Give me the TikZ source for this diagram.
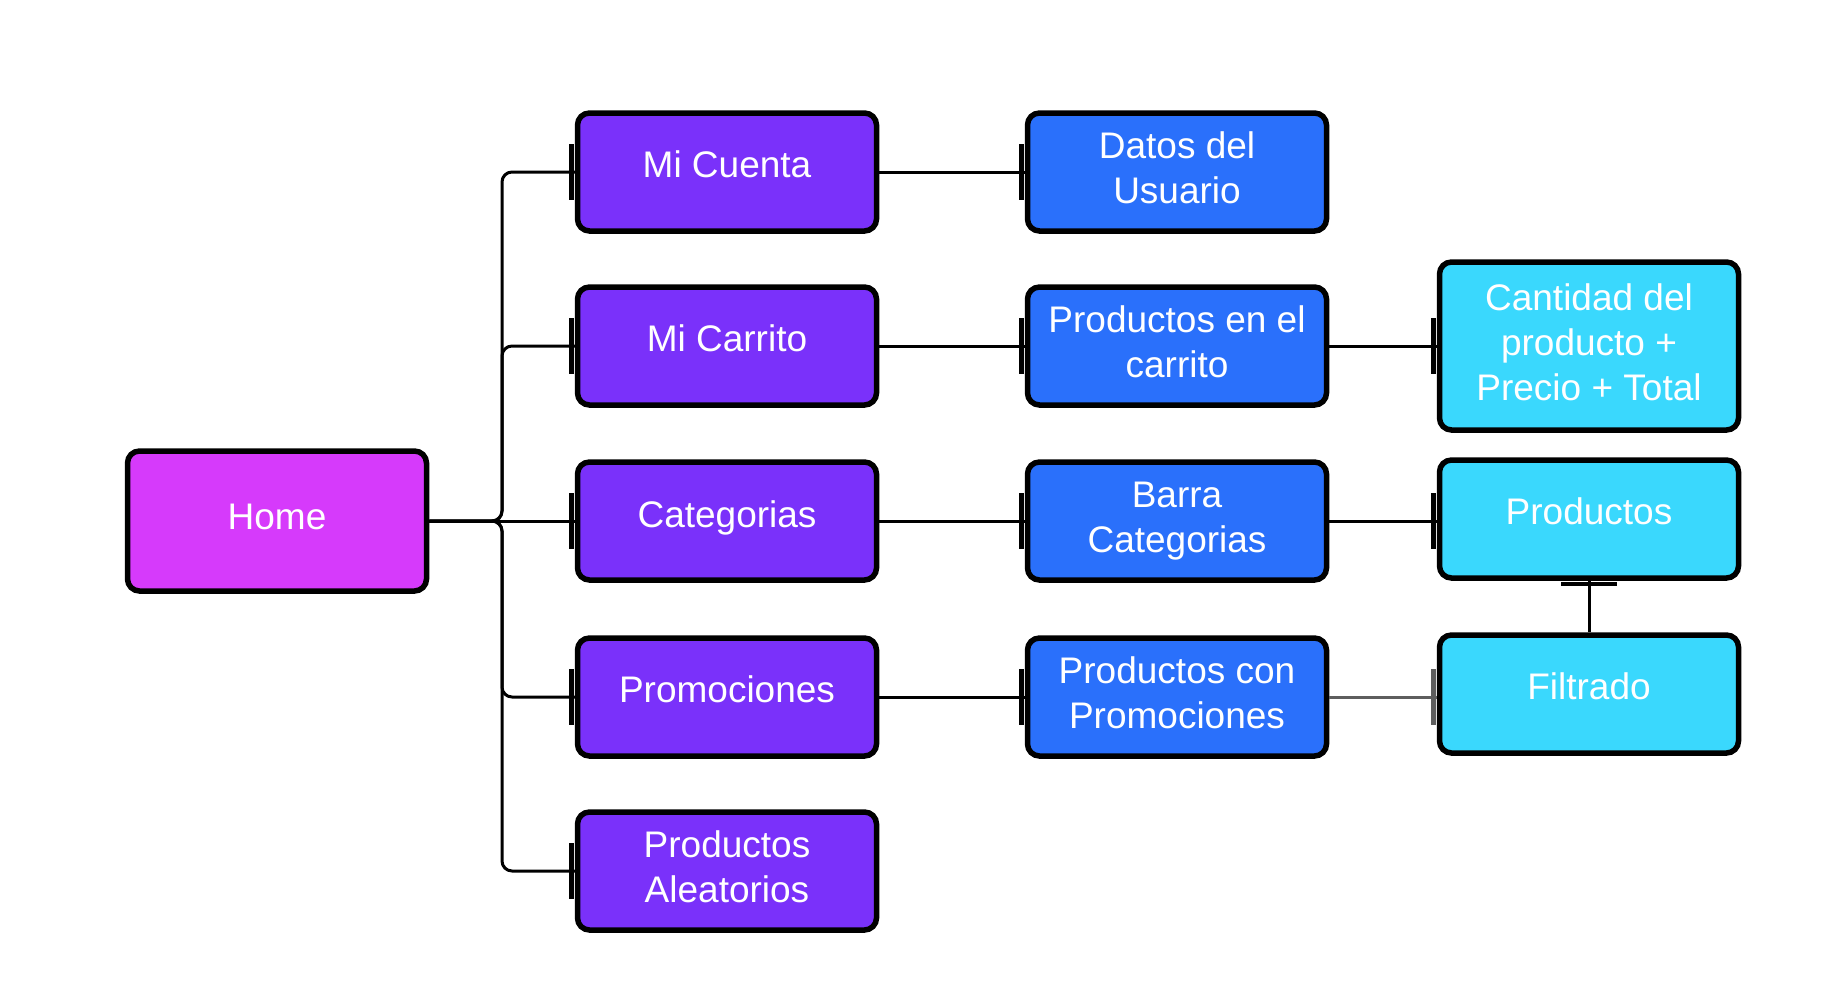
\documentclass[tikz,border=0pt]{standalone}
\usepackage{fontspec}
\setmainfont{Liberation Sans}
\definecolor{homec}{HTML}{D63AFB}
\definecolor{purc}{HTML}{7A31FA}
\definecolor{bluc}{HTML}{2A70FB}
\definecolor{cyac}{HTML}{3AD8FD}
\definecolor{grayc}{HTML}{5E5E5E}
\newcommand{\uptxt}[2][8pt]{\raisebox{#1}[\height][\depth]{#2}}
\newcommand{\uptwo}[1]{\begin{tabular}{@{}c@{}}#1\end{tabular}}
\begin{document}
\begin{tikzpicture}[x=1pt,y=-1pt,
  box/.style={draw=black,line width=5.5pt,rounded corners=12pt,minimum width=299pt,minimum height=118pt,
    text=white,align=center,font=\fontsize{37}{45}\selectfont,inner sep=0pt},
  hbox/.style={box,fill=homec},
  pbox/.style={box,fill=purc},
  bbox/.style={box,fill=bluc},
  cbox/.style={box,fill=cyac},
  conn/.style={draw=black,line width=3pt,rounded corners=10pt},
  gconn/.style={draw=grayc,line width=3pt},
  tickbar/.style={line width=5pt},
]
\useasboundingbox (0,0) rectangle (1845,1007);
\node[hbox,minimum height=140pt] (home) at (277,521) {\uptxt[4.5pt]{Home}};
\node[pbox] (mc) at (727,172) {\uptxt{Mi Cuenta}};
\node[pbox] (car) at (727,346) {\uptxt{Mi Carrito}};
\node[pbox] (cat) at (727,521) {\uptxt[3.5pt]{Categorias}};
\node[pbox] (promo) at (727,697) {\uptxt{Promociones}};
\node[pbox] (alea) at (727,871) {\uptwo{Productos\\Aleatorios}};
\node[bbox] (datos) at (1177,172) {\uptwo{Datos del\\Usuario}};
\node[bbox] (pcar) at (1177,346) {\uptwo{Productos en el\\carrito}};
\node[bbox] (barra) at (1177,521) {\uptwo{Barra\\Categorias}};
\node[bbox] (pprom) at (1177,697) {\uptwo{Productos con\\Promociones}};
\node[cbox,minimum height=168pt] (cant) at (1589,346) {\uptwo{Cantidad del\\producto +\\Precio + Total}};
\node[cbox] (prod) at (1589,519) {\uptxt{Productos}};
\node[cbox] (filt) at (1589,694) {\uptxt{Filtrado}};
\coordinate (trunk) at (502,521);
% Home branches
\foreach \t in {mc,car,promo,alea}{
  \draw[conn] (home.east) -- (trunk) -- (trunk |- \t.west) -- (\t.west);
  \draw[tickbar] ([xshift=-3pt,yshift=28pt]\t.west) -- ([xshift=-3pt,yshift=-28pt]\t.west);
}
\draw[conn] (home.east) -- (cat.west);
\draw[tickbar] ([xshift=-3pt,yshift=28pt]cat.west) -- ([xshift=-3pt,yshift=-28pt]cat.west);
% column 2 to 3
\foreach \s/\t in {mc/datos,car/pcar,cat/barra,promo/pprom}{
  \draw[conn] (\s.east) -- (\t.west);
  \draw[tickbar] ([xshift=-3pt,yshift=28pt]\t.west) -- ([xshift=-3pt,yshift=-28pt]\t.west);
}
% column 3 to 4
\draw[conn] (pcar.east) -- (pcar.east -| cant.west);
\draw[tickbar] ([xshift=-3pt,yshift=28pt]cant.west |- pcar.east) -- ([xshift=-3pt,yshift=-28pt]cant.west |- pcar.east);
\draw[conn] (barra.east) -- (barra.east -| prod.west);
\draw[tickbar] ([xshift=-3pt,yshift=28pt]prod.west |- barra.east) -- ([xshift=-3pt,yshift=-28pt]prod.west |- barra.east);
\draw[gconn] (pprom.east) -- (pprom.east -| filt.west);
\draw[tickbar,grayc] ([xshift=-3pt,yshift=28pt]filt.west |- pprom.east) -- ([xshift=-3pt,yshift=-28pt]filt.west |- pprom.east);
% Filtrado to Productos
\draw[conn] (filt.north) -- (prod.south);
\draw[line width=4pt] ([xshift=-28pt,yshift=-3pt]prod.south) -- ([xshift=28pt,yshift=-3pt]prod.south);
\end{tikzpicture}
\end{document}
